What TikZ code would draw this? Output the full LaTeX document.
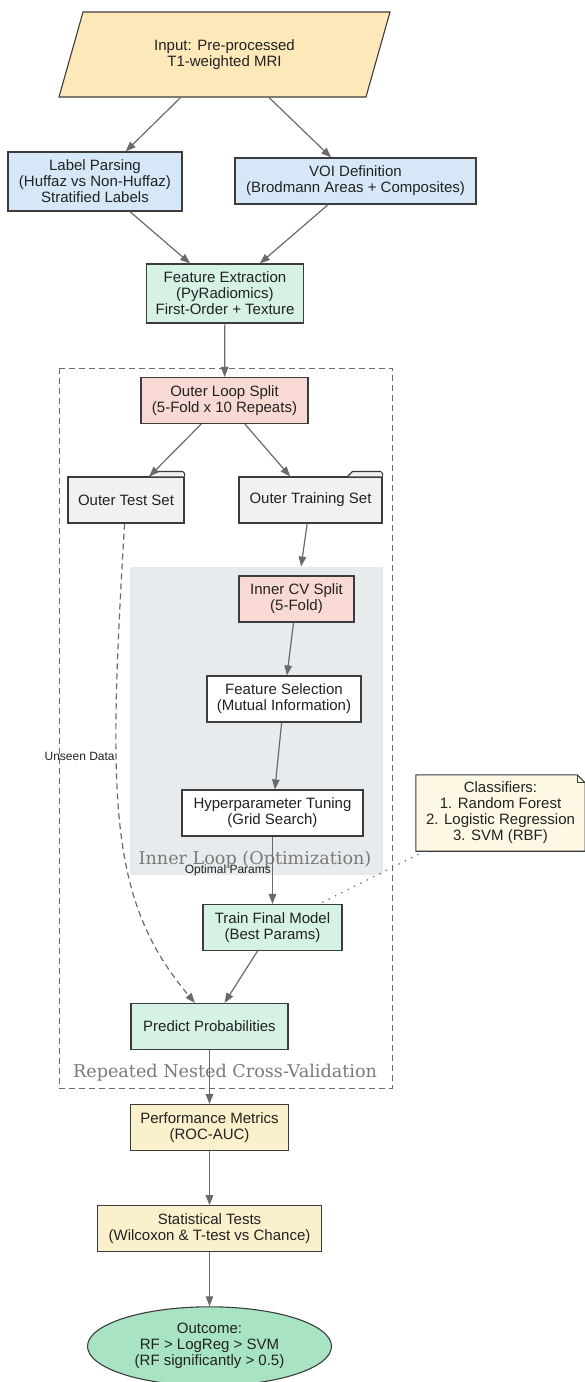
\documentclass[tikz,border=0pt]{standalone}
\usepackage{fontspec}
\setmainfont{Liberation Sans}
\newfontfamily\clusterfont{DejaVu Serif}
\usetikzlibrary{positioning,arrows.meta,shapes.geometric,backgrounds}
\definecolor{ink}{HTML}{222222}
\definecolor{rim}{HTML}{3C3C3C}
\definecolor{wire}{HTML}{6A6A6A}
\definecolor{paleSand}{HTML}{FCE8B9}
\definecolor{paleSky}{HTML}{D6E8F7}
\definecolor{paleMint}{HTML}{D5F2E4}
\definecolor{paleRose}{HTML}{F9D9D4}
\definecolor{paleSlate}{HTML}{F0F1F3}
\definecolor{loopGrey}{HTML}{E8EBED}
\definecolor{paleCream}{HTML}{FCF8E4}
\definecolor{paleButter}{HTML}{FAF0CC}
\definecolor{mint}{HTML}{A8E4C4}
\definecolor{caption}{HTML}{7A7A7A}
\tikzset{
  box/.style={rectangle, draw=rim, line width=1.1pt, text=ink, align=center,
              minimum height=46pt, inner xsep=5pt, font=\fontsize{15}{16}\selectfont},
  inputbox/.style={trapezium, trapezium left angle=51.3, trapezium right angle=128.7,
                   trapezium stretches body, draw=rim, line width=1.1pt, fill=paleSand,
                   text=ink, align=center, minimum width=331pt, minimum height=85pt,
                   inner sep=0pt, font=\fontsize{15}{16}\selectfont},
  source/.style={box, fill=paleSky},
  extract/.style={box, fill=paleMint},
  splitbox/.style={box, fill=paleRose},
  folder/.style={box, fill=paleSlate},
  stage/.style={box, fill=white},
  result/.style={box, fill=paleButter},
  outcome/.style={ellipse, draw=rim, line width=1.1pt, fill=mint, text=ink, align=center,
                  minimum width=244pt, minimum height=79pt, inner sep=0pt,
                  font=\fontsize{15}{16}\selectfont},
  memo/.style={rectangle, text=ink, align=center, minimum width=169pt, minimum height=76pt,
               font=\fontsize{15}{16}\selectfont},
  memoedge/.style={draw=rim, line width=1.1pt, fill=paleCream, line join=round},
  foldertab/.style={draw=rim, line width=1.1pt, fill=paleSlate, line join=round},
  outerloop/.style={draw=wire, line width=1pt, dash pattern=on 6pt off 4pt},
  clusterlabel/.style={text=caption, inner sep=0pt, font=\clusterfont\fontsize{17.6}{19}\selectfont},
  edgelabel/.style={text=ink, inner sep=1pt, font=\fontsize{12}{13}\selectfont},
  flow/.style={-{Triangle[length=10pt, width=7.5pt]}, line width=1.2pt, draw=wire},
  unseen/.style={flow, dash pattern=on 6pt off 4pt},
  hint/.style={draw=wire, line width=1.7pt, line cap=round, dash pattern=on 0.1pt off 7pt}
}
\begin{document}
\begin{tikzpicture}[x=1pt, y=1pt, node distance=54pt]
\useasboundingbox (0,0) rectangle (584,-1382);

% nested cross-validation frames
\draw[outerloop] (59,-368) rectangle (392,-1088);
\fill[loopGrey] (129.6,-567) rectangle (383,-875);
\node[clusterlabel] (innerlbl) at (255,-860) {Inner Loop (Optimization)};
\node[clusterlabel] (outerlbl) at (225,-1073) {Repeated Nested Cross-Validation};

\node[inputbox] (mri) at (224.5,-54.5) {Input: Pre-processed\\T1-weighted MRI};
\node[source, minimum width=174pt, minimum height=59pt] (labels) at (95,-181.5) {Label Parsing\\(Huffaz vs Non-Huffaz)\\Stratified Labels};
\node[source, minimum width=241pt] (voi) at (355.5,-181) {VOI Definition\\(Brodmann Areas + Composites)};
\node[extract, minimum width=157.5pt, minimum height=59pt] (features) at (225,-293.5) {Feature Extraction\\(PyRadiomics)\\First-Order + Texture};
\node[splitbox, minimum width=167pt] (outer) at (224.5,-400.5) {Outer Loop Split\\(5-Fold x 10 Repeats)};
\node[folder, minimum width=116pt] (testset) at (126,-500) {Outer Test Set};
\node[folder, minimum width=143pt] (trainset) at (310.5,-500) {Outer Training Set};
\node[splitbox, minimum width=115pt] (innercv) at (296.5,-599) {Inner CV Split\\(5-Fold)};
\node[stage, minimum width=154pt] (select) at (284,-699) {Feature Selection\\(Mutual Information)};
\node[stage, minimum width=181pt] (tuning) at (272.5,-813) {Hyperparameter Tuning\\(Grid Search)};
\node[extract, minimum width=139pt] (final) at (272.5,-927.5) {Train Final Model\\(Best Params)};
\node[extract, minimum width=157pt] (predict) at (209.5,-1026.5) {Predict Probabilities};
\node[result, minimum width=158pt, below=of predict] (metrics) {Performance Metrics\\(ROC-AUC)};
\node[result, minimum width=224pt, below=of metrics] (stats) {Statistical Tests\\(Wilcoxon \& T-test vs Chance)};
\node[outcome, below=of stats] (verdict) {Outcome:\\RF > LogReg > SVM\\(RF significantly > 0.5)};
\node[memo] (models) at (500.5,-813) {Classifiers:\\1. Random Forest\\2. Logistic Regression\\3. SVM (RBF)};

% note outline with folded corner
\begin{scope}[on background layer]
\draw[memoedge] (models.north west) -- ([xshift=-8pt]models.north east)
  -- ([yshift=-8pt]models.north east) -- (models.south east) -- (models.south west) -- cycle;
\end{scope}
\draw[draw=rim, line width=1.1pt] ([xshift=-8pt]models.north east) |- ([yshift=-8pt]models.north east);

% folder tabs
\draw[foldertab] ([xshift=-35pt]testset.north east) -- ++(5,5)
  -- ([xshift=-2pt,yshift=5pt]testset.north east) -- ([yshift=3pt]testset.north east) -- (testset.north east);
\draw[foldertab] ([xshift=-35pt]trainset.north east) -- ++(5,5)
  -- ([xshift=-2pt,yshift=5pt]trainset.north east) -- ([yshift=3pt]trainset.north east) -- (trainset.north east);

\draw[flow] (mri) -- (labels);
\draw[flow] (mri) -- (voi);
\draw[flow] (labels) -- (features);
\draw[flow] (voi) -- (features);
\draw[flow] (features) -- (outer);
\draw[flow] (outer) -- (testset);
\draw[flow] (outer) -- (trainset);
\draw[flow, shorten >=9pt] (trainset) -- (innercv);
\draw[flow] (innercv) -- (select);
\draw[flow] (select) -- (tuning);
\draw[flow] (tuning) -- node[edgelabel, left] {Optimal Params} (final);
\draw[flow] (final) -- (predict);
\draw[unseen] (testset) .. controls (108,-800) and (108,-900) ..
  node[pos=0.35, edgelabel, left] {Unseen Data} ([xshift=-14.5pt]predict.north);
\draw[flow] (predict) -- (metrics);
\draw[flow] (metrics) -- (stats);
\draw[flow] (stats) -- (verdict);
\draw[hint] (models) -- (final);
\end{tikzpicture}
\end{document}
